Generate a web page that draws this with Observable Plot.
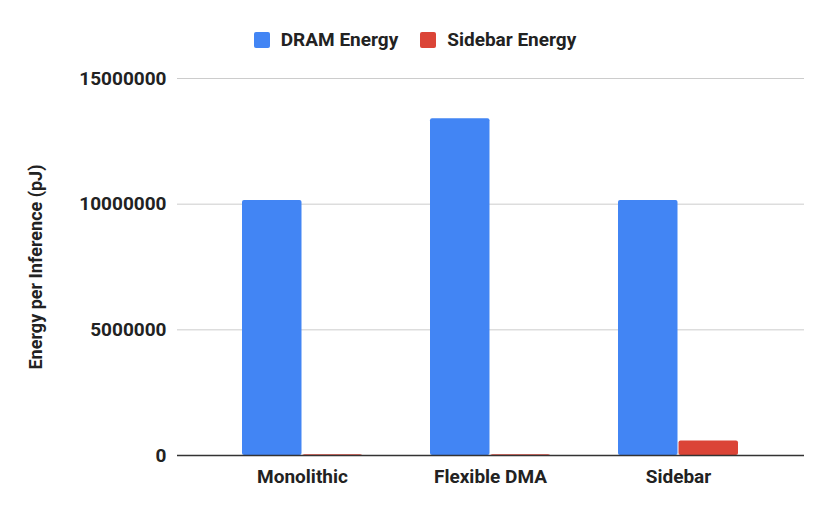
<!DOCTYPE html>
<html>
<head>
<meta charset="utf-8">
<script src="https://cdn.jsdelivr.net/npm/d3@7"></script>
<script src="https://cdn.jsdelivr.net/npm/@observablehq/plot@0.6"></script>
<style>
  html, body { margin: 0; padding: 0; background: #fff; }
  body { width: 830px; height: 514px; overflow: hidden; font-family: Roboto, "Noto Sans", sans-serif; }
  #legend { height: 60px; display: flex; justify-content: center; align-items: flex-start; box-sizing: border-box; }
  .item { display: flex; align-items: center; margin: 0 11px; padding-top: 28px; font-size: 19px; font-weight: 700; color: #222; }
  .sw { width: 16px; height: 16px; border-radius: 2px; margin-right: 11px; }
  svg { display: block; }
</style>
</head>
<body>
<div id="legend"></div>
<div id="chart"></div>
<script>
const categories = ["Monolithic", "Flexible DMA", "Sidebar"];
const series = ["DRAM Energy", "Sidebar Energy"];
const dramEnergy = [10150000, 13400000, 10150000];
const sidebarEnergy = [25000, 25000, 580000];
const yTicks = [0, 5000000, 10000000, 15000000];
const colors = ["#4285F4", "#DB4437"];

const dramRows = categories.map((c, i) => ({category: c, series: series[0], value: dramEnergy[i]}));
const sideRows = categories.map((c, i) => ({category: c, series: series[1], value: sidebarEnergy[i]}));

const legend = document.getElementById("legend");
series.forEach((s, i) => {
  const it = document.createElement("div");
  it.className = "item";
  const sw = document.createElement("span");
  sw.className = "sw";
  sw.style.background = colors[i];
  it.appendChild(sw);
  it.appendChild(document.createTextNode(s));
  legend.appendChild(it);
});

function build(bw) {
  const half = bw / 2;
  return Plot.plot({
    width: 830,
    height: 454,
    marginTop: 18,
    marginBottom: 59,
    marginLeft: 177,
    marginRight: 26,
    style: {fontFamily: "Roboto, 'Noto Sans', sans-serif", fontSize: "19px", fontWeight: 700, color: "#222", background: "#fff"},
    x: {domain: categories, paddingInner: 0.36, paddingOuter: 0.347, label: null, tickSize: 0, tickPadding: 14},
    y: {domain: [0, 15000000], ticks: yTicks, tickFormat: d3.format("d"), tickSize: 0, tickPadding: 11, label: null},
    color: {domain: series, range: colors},
    marks: [
      Plot.gridY(yTicks, {stroke: "#ccc", strokeOpacity: 1, strokeWidth: 1}),
      Plot.axisY(yTicks, {tickSize: 0, tickPadding: 11, tickFormat: d3.format("d"), label: null}),
      Plot.axisY({ticks: [], tickSize: 0, label: "Energy per Inference (pJ)", labelAnchor: "center", labelOffset: 148, labelArrow: false, fontSize: 18}),
      Plot.axisX({tickSize: 0, tickPadding: 14, label: null}),
      Plot.barY(dramRows, {x: "category", y: "value", fill: "series", insetRight: half + 0.5, rx: 2}),
      Plot.barY(sideRows, {x: "category", y: "value", fill: "series", insetLeft: half + 0.5, rx: 2}),
      Plot.ruleY([0], {stroke: "#333", strokeWidth: 1.5})
    ]
  });
}
const probe = build(0);
const bw = probe.scale("x").bandwidth;
const chart = build(bw);
document.getElementById("chart").appendChild(chart);
</script>
</body>
</html>
